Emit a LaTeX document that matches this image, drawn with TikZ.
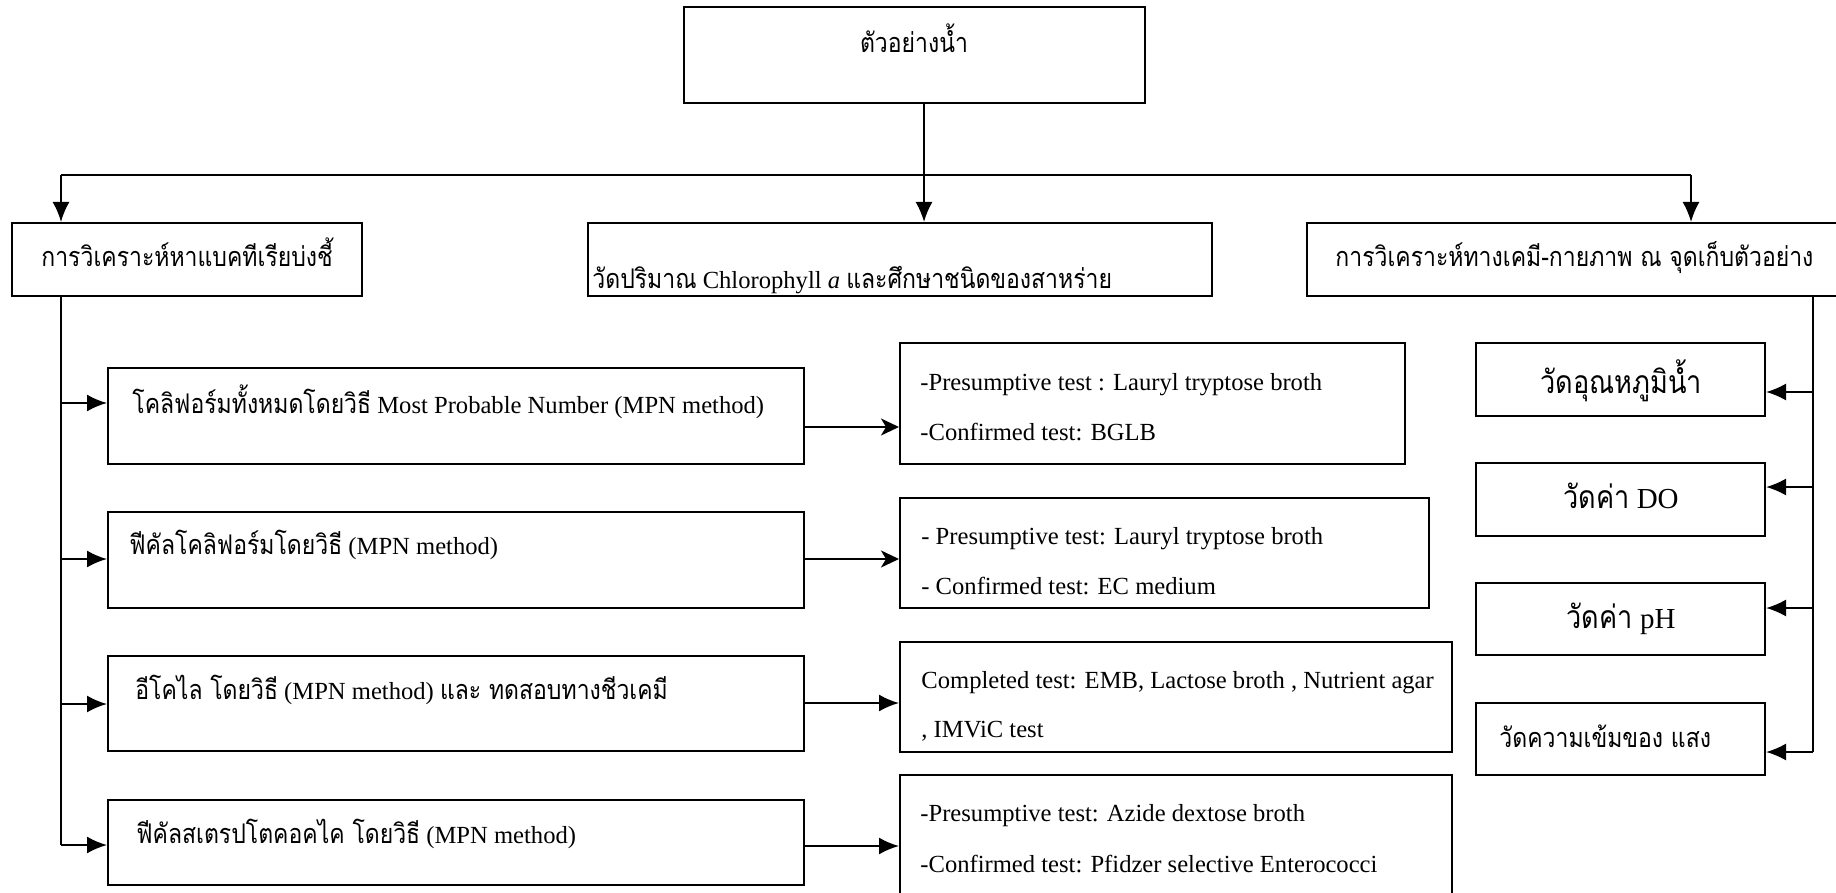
\documentclass[tikz,border=0pt]{standalone}
\usepackage{fontspec}
\setmainfont{Liberation Serif}
\newfontfamily\thaifont[Script=Thai,Scale=1.1,FakeStretch=0.85]{Loma}
\newcommand\tht[1]{{\thaifont #1}}
\usetikzlibrary{arrows.meta}

\begin{document}
\begin{tikzpicture}[x=0.5pt,y=-0.5pt,
  box/.style={draw,line width=1pt,inner sep=0pt},
  lbl/.style={inner sep=0pt,anchor=base west,font=\fontsize{12.3}{14}\selectfont},
  big/.style={inner sep=0pt,anchor=base,font=\fontsize{14.5}{16}\selectfont},
  ln/.style={line width=1pt},
  arr/.style={line width=1pt,-{Latex[length=10pt,width=8.5pt]}},
  sarr/.style={line width=1pt,-{Stealth[length=9pt,width=8.5pt,inset=2.5pt]}}]
\useasboundingbox (0,0) rectangle (1836,893);

% top level
\node[box,minimum width=230.5pt,minimum height=48pt] (top) at (914.5,55) {};
\node[lbl,anchor=base] (ttop) at (914,53) {\tht{ตัวอย่างน้ำ}};

% second level
\node[box,minimum width=175pt,minimum height=36.5pt] (left) at (187,259.5) {};
\node[box,minimum width=312pt,minimum height=36.5pt] (mid) at (900,259.5) {};
\node[box,minimum width=271.5pt,minimum height=36.5pt] (right) at (1578.5,259.5) {};
\node[lbl] (tleft) at (41,267) {\tht{การวิเคราะห์หาแบคทีเรียบ่งชี้}};
\node[lbl] (tmid) at (592,288) {\tht{วัดปริมาณ} Chlorophyll \textit{a} \tht{และศึกษาชนิดของสาหร่าย}};
\node[lbl] (tright) at (1335,267) {\tht{การวิเคราะห์ทางเคมี-กายภาพ ณ จุดเก็บตัวอย่าง}};

\coordinate (jc) at (924,175);
\coordinate (jl) at (61,175);
\coordinate (jr) at (1691,175);
\draw[ln] (top.south -| jc) -- (jc);
\draw[ln] (jl) -- (jr);
\draw[arr] (jc) -- (jc |- mid.north);
\draw[arr] (jl) -- (jl |- left.north);
\draw[arr] (jr) -- (jr |- right.north);

% bacteria
\node[box,minimum width=348pt,minimum height=48pt] (b1) at (456,416) {};
\node[box,minimum width=348pt,minimum height=48pt] (b2) at (456,560) {};
\node[box,minimum width=348pt,minimum height=47.5pt] (b3) at (456,703.5) {};
\node[box,minimum width=348pt,minimum height=42.5pt] (b4) at (456,842.5) {};
\node[lbl] (tb1) at (132,413) {\tht{โคลิฟอร์มทั้งหมดโดยวิธี} Most Probable Number (MPN method)};
\node[lbl] (tb2) at (129,554) {\tht{ฟีคัลโคลิฟอร์มโดยวิธี} (MPN method)};
\node[lbl] (tb3) at (135,699) {\tht{อีโคไล โดยวิธี} (MPN method) \tht{และ ทดสอบทางชีวเคมี}};
\node[lbl] (tb4) at (136,843) {\tht{ฟีคัลสเตรปโตคอคไค โดยวิธี} (MPN method)};

\coordinate (lt) at (61,845);
\draw[ln] (jl |- left.south) -- (lt);
\coordinate (a1) at (61,403);
\coordinate (a2) at (61,559);
\coordinate (a3) at (61,704);
\draw[arr] (a1) -- (a1 -| b1.west);
\draw[arr] (a2) -- (a2 -| b2.west);
\draw[arr] (a3) -- (a3 -| b3.west);
\draw[arr] (lt) -- (lt -| b4.west);

% tests
\node[box,minimum width=252.5pt,minimum height=60.5pt] (s1) at (1152.5,403.5) {};
\node[box,minimum width=264.5pt,minimum height=55pt] (s2) at (1164.5,553) {};
\node[box,minimum width=276pt,minimum height=55pt] (s3) at (1176,697) {};
\node[box,minimum width=276pt,minimum height=62.5pt] (s4) at (1176,837.5) {};
\node[lbl] (ts1a) at (920,390) {-Presumptive test : Lauryl tryptose broth};
\node[lbl] (ts1b) at (920,440) {-Confirmed test: BGLB};
\node[lbl] (ts2a) at (921,544) {- Presumptive test: Lauryl tryptose broth};
\node[lbl] (ts2b) at (921,594) {- Confirmed test: EC medium};
\node[lbl] (ts3a) at (921,688) {Completed test: EMB, Lactose broth , Nutrient agar};
\node[lbl] (ts3b) at (921,737) {, IMViC test};
\node[lbl] (ts4a) at (920,821) {-Presumptive test: Azide dextose broth};
\node[lbl] (ts4b) at (920,872) {-Confirmed test: Pfidzer selective Enterococci};

\coordinate (c1) at (804,427);
\coordinate (c2) at (804,559);
\coordinate (c3) at (804,703);
\coordinate (c4) at (804,846);
\draw[sarr] (c1 -| b1.east) -- (c1 -| s1.west);
\draw[sarr] (c2 -| b2.east) -- (c2 -| s2.west);
\draw[arr] (c3 -| b3.east) -- (c3 -| s3.west);
\draw[arr] (c4 -| b4.east) -- (c4 -| s4.west);

% field measurements
\node[box,minimum width=144.5pt,minimum height=36.5pt] (r1) at (1620.5,379.5) {};
\node[box,minimum width=144.5pt,minimum height=36.5pt] (r2) at (1620.5,499.5) {};
\node[box,minimum width=144.5pt,minimum height=36pt] (r3) at (1620.5,619) {};
\node[box,minimum width=144.5pt,minimum height=36pt] (r4) at (1620.5,739) {};
\node[big] (tr1) at (1621,393) {\tht{วัดอุณหภูมิน้ำ}};
\node[big] (tr2) at (1621,508) {\tht{วัดค่า} DO};
\node[big] (tr3) at (1621,628) {\tht{วัดค่า} pH};
\node[lbl] (tr4) at (1499,747) {\tht{วัดความเข้มของ แสง}};

\coordinate (rt) at (1813,752);
\draw[ln] (rt |- right.south) -- (rt);
\coordinate (d1) at (1813,392);
\coordinate (d2) at (1813,487);
\coordinate (d3) at (1813,608);
\draw[arr] (d1) -- (d1 -| r1.east);
\draw[arr] (d2) -- (d2 -| r2.east);
\draw[arr] (d3) -- (d3 -| r3.east);
\draw[arr] (rt) -- (rt -| r4.east);
\end{tikzpicture}
\end{document}
